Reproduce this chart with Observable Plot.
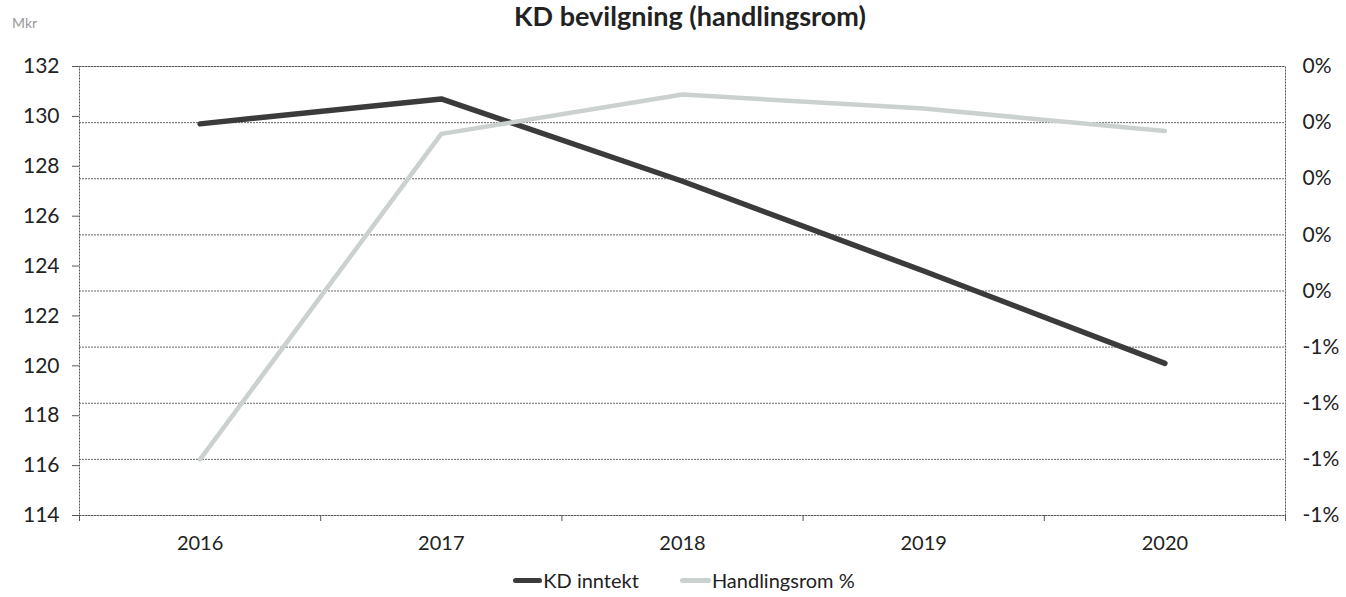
<!DOCTYPE html>
<html>
<head>
<meta charset="utf-8">
<script src="https://cdn.jsdelivr.net/npm/d3@7"></script>
<script src="https://cdn.jsdelivr.net/npm/@observablehq/plot@0.6"></script>
<style>
  html, body { margin: 0; padding: 0; background: #fff; }
  #wrap { position: relative; width: 1346px; height: 597px; font-family: Lato, "Open Sans", sans-serif; color: #222; }
  #title { position: absolute; top: 1px; left: 0; width: 1380px; text-align: center; font-weight: bold; font-size: 27px; line-height: 30px; }
  #unit { position: absolute; top: 14px; left: 12px; font-size: 14px; color: #999; }
  #legend { position: absolute; top: 567px; left: 11px; width: 1346px; display: flex; justify-content: center; font-size: 20px; line-height: 26px; }
  .item { display: flex; align-items: center; }
  .sw { display: inline-block; width: 29px; height: 5px; border-radius: 3px; margin-right: 1px; }
  #chart { position: absolute; top: 0; left: 0; }
</style>
</head>
<body>
<div id="wrap">
  <div id="chart"></div>
  <div id="title">KD bevilgning (handlingsrom)</div>
  <div id="unit">Mkr</div>
  <div id="legend"></div>
</div>
<script>
const years = [2016, 2017, 2018, 2019, 2020];
const kdInntekt = [129.7, 130.7, 127.4, 123.8, 120.1];
const handlingsrom = [-1.0, 0.16, 0.30, 0.25, 0.17];
const leftTicks = [114, 116, 118, 120, 122, 124, 126, 128, 130, 132];
const rightTicks = [0.4, 0.2, 0.0, -0.2, -0.4, -0.6, -0.8, -1.0, -1.2];
const seriesNames = ["KD inntekt", "Handlingsrom %"];
const seriesColors = ["#3b3b3b", "#cbd1ce"];

// secondary (percent) axis mapped onto the primary scale
const pMin = -1.2, pMax = 0.4, yMin = 114, yMax = 132;
const pctToLeft = p => yMin + (p - pMin) / (pMax - pMin) * (yMax - yMin);
const leftToPct = v => pMin + (v - yMin) / (yMax - yMin) * (pMax - pMin);
const fmtPct = p => `${Math.round(p) || 0}%`;

const edges = d3.range(years.length + 1).map(i => years[0] - 0.5 + i);
const kdData = years.map((yr, i) => ({year: yr, value: kdInntekt[i]}));
const hrData = years.map((yr, i) => ({year: yr, value: pctToLeft(handlingsrom[i])}));

const chart = Plot.plot({
  width: 1346,
  height: 597,
  marginLeft: 79,
  marginRight: 61,
  marginTop: 66,
  marginBottom: 82,
  style: {fontFamily: "Lato, 'Open Sans', sans-serif", fontSize: "20px", color: "#222", background: "transparent"},
  x: {domain: [edges[0], edges[edges.length - 1]]},
  y: {domain: [114, 132]},
  marks: [
    Plot.gridY(rightTicks.map(pctToLeft), {stroke: "#555", strokeOpacity: 0.9, strokeWidth: 1, strokeDasharray: "2,1"}),
    Plot.frame({stroke: "#555", strokeDasharray: "2,1"}),
    Plot.axisY(leftTicks, {anchor: "left", tickSize: 7, tickPadding: 13, label: null, fontSize: 21, stroke: "#555"}),
    Plot.axisY(rightTicks.map(pctToLeft), {anchor: "right", tickSize: 0, tickPadding: 17, label: null, fontSize: 21, tickFormat: v => fmtPct(leftToPct(v))}),
    Plot.axisX(edges, {tickSize: 6, tickFormat: () => "", label: null, stroke: "#555"}),
    Plot.axisX(years, {tickSize: 0, tickPadding: 20, label: null, fontSize: 20, tickFormat: d => String(d)}),
    Plot.line(kdData, {x: "year", y: "value", stroke: seriesColors[0], strokeWidth: 5.5, strokeLinecap: "round"}),
    Plot.line(hrData, {x: "year", y: "value", stroke: seriesColors[1], strokeWidth: 4.5, strokeLinecap: "round"})
  ]
});
document.getElementById("chart").appendChild(chart);

const legend = document.getElementById("legend");
seriesNames.forEach((name, i) => {
  const item = document.createElement("div");
  item.className = "item";
  if (i > 0) item.style.marginLeft = "41px";
  const sw = document.createElement("span");
  sw.className = "sw";
  sw.style.background = seriesColors[i];
  if (i === 1) sw.style.width = "31px";
  item.appendChild(sw);
  item.appendChild(document.createTextNode(name));
  legend.appendChild(item);
});
</script>
</body>
</html>
